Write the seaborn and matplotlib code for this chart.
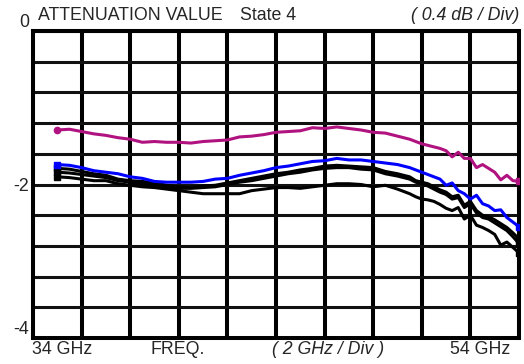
import numpy as np
import pandas as pd
import matplotlib
matplotlib.use("Agg")
import matplotlib.pyplot as plt
import seaborn as sns

# ---- data ----
freq = [35.0, 35.5, 36.0, 36.5, 37.0, 37.5, 38.0, 38.5, 39.0, 39.5, 40.0, 40.5,
        41.0, 41.5, 42.0, 42.5, 43.0, 43.5, 44.0, 44.5, 45.0, 45.5, 46.0, 46.5,
        47.0, 47.5, 48.0, 48.5, 49.0, 49.5, 49.75, 50.0, 50.25, 50.5, 50.75,
        51.0, 51.25, 51.5, 51.75, 52.0, 52.25, 52.5, 52.75, 53.0, 53.25, 53.5,
        53.75, 54.0]

magenta = [-1.29, -1.28, -1.31, -1.34, -1.36, -1.39, -1.41, -1.45, -1.44, -1.45,
           -1.45, -1.46, -1.44, -1.43, -1.42, -1.38, -1.37, -1.35, -1.32, -1.31,
           -1.30, -1.26, -1.27, -1.25, -1.27, -1.29, -1.32, -1.33, -1.37, -1.41,
           -1.44, -1.47, -1.49, -1.51, -1.53, -1.56, -1.64, -1.58, -1.66, -1.66,
           -1.78, -1.74, -1.79, -1.84, -1.94, -1.88, -1.95, -1.96]

blue = [-1.74, -1.75, -1.78, -1.82, -1.84, -1.86, -1.90, -1.92, -1.96, -1.97,
        -1.97, -1.97, -1.96, -1.93, -1.92, -1.88, -1.85, -1.82, -1.78, -1.76,
        -1.73, -1.70, -1.69, -1.66, -1.68, -1.68, -1.70, -1.72, -1.74, -1.78,
        -1.81, -1.84, -1.87, -1.90, -1.93, -2.01, -1.98, -2.08, -2.12, -2.19,
        -2.14, -2.25, -2.28, -2.34, -2.33, -2.43, -2.49, -2.55]

black1 = [-1.79, -1.80, -1.83, -1.86, -1.88, -1.93, -1.95, -1.96, -1.98, -2.01,
          -2.03, -2.04, -2.02, -2.01, -1.98, -1.95, -1.92, -1.89, -1.86, -1.84,
          -1.81, -1.79, -1.76, -1.75, -1.76, -1.77, -1.78, -1.83, -1.86, -1.90,
          -1.95, -1.97, -1.99, -2.03, -2.07, -2.10, -2.16, -2.14, -2.27, -2.22,
          -2.34, -2.40, -2.42, -2.46, -2.51, -2.56, -2.63, -2.71]

black2 = [-1.84, -1.85, -1.87, -1.89, -1.91, -1.95, -1.97, -1.99, -2.01, -2.03,
          -2.05, -2.05, -2.04, -2.03, -2.00, -1.97, -1.95, -1.92, -1.89, -1.86,
          -1.84, -1.81, -1.79, -1.78, -1.78, -1.80, -1.81, -1.86, -1.89, -1.93,
          -1.97, -1.99, -2.02, -2.06, -2.10, -2.13, -2.19, -2.17, -2.30, -2.25,
          -2.37, -2.43, -2.45, -2.50, -2.55, -2.60, -2.68, -2.77]

black3 = [-1.90, -1.91, -1.93, -1.95, -1.95, -1.99, -2.01, -2.03, -2.04, -2.06,
          -2.08, -2.10, -2.12, -2.12, -2.12, -2.12, -2.08, -2.06, -2.04, -2.04,
          -2.05, -2.03, -2.01, -1.99, -1.99, -2.00, -2.03, -2.01, -2.06, -2.12,
          -2.16, -2.19, -2.20, -2.22, -2.26, -2.31, -2.34, -2.30, -2.45, -2.40,
          -2.53, -2.56, -2.60, -2.65, -2.79, -2.75, -2.82, -2.89]

y_tick_labels = {0.0: "0", -2.0: "-2", -4.0: "-4"}

# ---- style ----
sns.set_style("white")
plt.rcParams["font.family"] = ["Liberation Sans", "DejaVu Sans"]

W, H = 524, 364
fig = plt.figure(figsize=(W / 100, H / 100), dpi=100)
x0, x1, y0, y1 = 33, 519, 31, 338
ax = fig.add_axes([x0 / W, 1 - y1 / H, (x1 - x0) / W, (y1 - y0) / H])

series = [("black3", black3, "#000000"), ("black2", black2, "#000000"),
          ("black1", black1, "#000000"), ("blue", blue, "#0000ff"),
          ("magenta", magenta, "#b0127f")]

for name, vals, col in series:
    df = pd.DataFrame({"freq": freq, "val": vals})
    sns.lineplot(data=df, x="freq", y="val", ax=ax, color=col, linewidth=2.2,
                 zorder=3, legend=False)
    ax.plot([freq[0]], [vals[0]], marker="o" if name == "magenta" else "s",
            color=col, markersize=4.5, zorder=4, linestyle="none")
    ax.plot([freq[-1]], [vals[-1]], marker="s", color=col, markersize=5,
            zorder=4, linestyle="none")

ax.set_xlim(34, 54)
ax.set_ylim(-4, 0)

xt = np.arange(34, 54.01, 2)
yt = np.round(np.arange(-4, 0.001, 0.4), 2)
ax.set_xticks(xt)
ax.set_xticklabels([""] * len(xt))
ax.set_yticks(yt)
ax.set_yticklabels([y_tick_labels.get(float(v), "") for v in yt],
                   fontsize=12.8)
ax.tick_params(axis="both", length=0, pad=3)
for lab, v in zip(ax.get_yticklabels(), yt):
    if float(v) in (0.0, -4.0):
        lab.set_verticalalignment("bottom")

for v in xt:
    ax.axvline(v, color="black", linewidth=2.9, zorder=1)
for v in yt:
    ax.axhline(v, color="#111111", linewidth=2.2, zorder=1)

for sp in ax.spines.values():
    sp.set_visible(True)
    sp.set_color("black")
    sp.set_linewidth(2.9)
ax.set_xlabel("")
ax.set_ylabel("")

fs = 12.8
fig.text(38 / W, 1 - 15 / H, "ATTENUATION VALUE", fontsize=fs, va="center", ha="left")
fig.text(240 / W, 1 - 15 / H, "State 4", fontsize=fs, va="center", ha="left")
fig.text(519 / W, 1 - 15 / H, "( 0.4 dB / Div)", fontsize=fs, va="center",
         ha="right", style="italic")

yb = 1 - 350 / H
fig.text(32 / W, yb, "34 GHz", fontsize=fs, va="center", ha="left")
fig.text(150 / W, yb, "FREQ.", fontsize=fs, va="center", ha="left")
fig.text(272 / W, yb, "( 2 GHz / Div )", fontsize=fs, va="center", ha="left",
         style="italic")
fig.text(510 / W, yb, "54 GHz", fontsize=fs, va="center", ha="right")

fig.savefig("out.png", dpi=100, facecolor="white")
